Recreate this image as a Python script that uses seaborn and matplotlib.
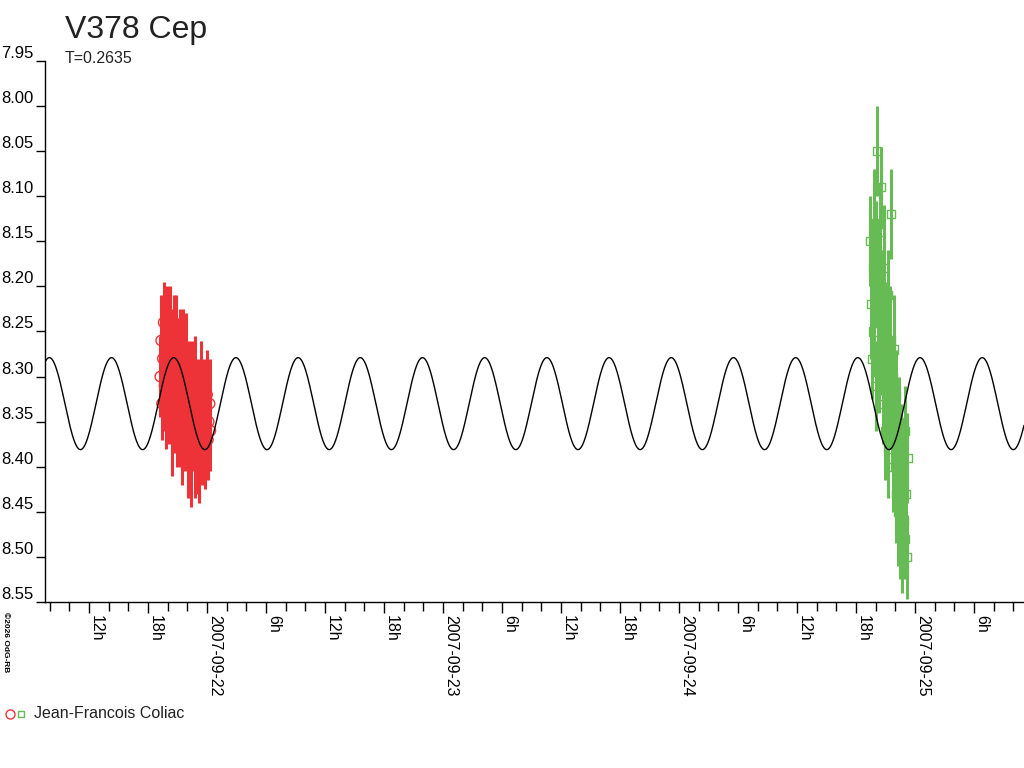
import numpy as np
import pandas as pd
import matplotlib
matplotlib.use('Agg')
import matplotlib.pyplot as plt
import seaborn as sns
from matplotlib.lines import Line2D
from matplotlib.ticker import FixedLocator, FuncFormatter

# Données : temps en heures depuis 2007-09-22 00:00, magnitudes et erreurs
red_hours = [-4.75, -4.66, -4.58, -4.49, -4.41, -4.32, -4.24, -4.15, -4.07, -3.98,
             -3.90, -3.81, -3.73, -3.64, -3.56, -3.47, -3.39, -3.30, -3.22, -3.13,
             -3.05, -2.96, -2.88, -2.79, -2.71, -2.62, -2.54, -2.45, -2.37, -2.28,
             -2.20, -2.11, -2.03, -1.94, -1.86, -1.77, -1.69, -1.60, -1.52, -1.43,
             -1.35, -1.26, -1.18, -1.09, -1.01, -0.92, -0.84, -0.75, -0.67, -0.58,
             -0.50, -0.41, -0.33, -0.24, -0.16, -0.07, 0.01, 0.10, 0.18, 0.27,
             0.35]
red_mag = [8.30, 8.26, 8.33, 8.28, 8.24, 8.31, 8.27, 8.34, 8.25, 8.29,
           8.32, 8.24, 8.30, 8.27, 8.35, 8.28, 8.25, 8.33, 8.30, 8.26,
           8.36, 8.29, 8.32, 8.27, 8.34, 8.30, 8.37, 8.28, 8.33, 8.31,
           8.36, 8.29, 8.34, 8.38, 8.30, 8.35, 8.32, 8.39, 8.31, 8.36,
           8.33, 8.38, 8.30, 8.35, 8.37, 8.32, 8.39, 8.34, 8.36, 8.31,
           8.38, 8.35, 8.33, 8.37, 8.34, 8.36, 8.32, 8.37, 8.35, 8.33,
           8.36]
red_err = [0.045, 0.050, 0.040, 0.055, 0.045, 0.050, 0.060, 0.040, 0.050, 0.045,
           0.055, 0.040, 0.050, 0.045, 0.060, 0.050, 0.040, 0.055, 0.045, 0.050,
           0.040, 0.055, 0.050, 0.045, 0.060, 0.040, 0.050, 0.055, 0.045, 0.050,
           0.045, 0.060, 0.050, 0.055, 0.040, 0.050, 0.045, 0.055, 0.050, 0.045,
           0.050, 0.055, 0.045, 0.050, 0.060, 0.040, 0.050, 0.045, 0.055, 0.050,
           0.040, 0.045, 0.050, 0.055, 0.045, 0.040, 0.050, 0.045, 0.040, 0.050,
           0.045]

green_hours = [67.45, 67.55, 67.62, 67.70, 67.78, 67.85, 67.93, 68.00, 68.08, 68.15,
               68.23, 68.30, 68.38, 68.45, 68.53, 68.60, 68.68, 68.75, 68.83, 68.90,
               68.98, 69.05, 69.13, 69.20, 69.28, 69.35, 69.43, 69.50, 69.58, 69.65,
               69.73, 69.80, 69.88, 69.95, 70.03, 70.10, 70.18, 70.25, 70.33, 70.40,
               70.48, 70.55, 70.63, 70.70, 70.78, 70.85, 70.93, 71.00, 71.08, 71.15,
               71.23]
green_mag = [8.15, 8.22, 8.28, 8.18, 8.25, 8.13, 8.20, 8.31, 8.16, 8.05,
             8.24, 8.19, 8.29, 8.14, 8.09, 8.27, 8.22, 8.33, 8.18, 8.26,
             8.36, 8.24, 8.30, 8.21, 8.38, 8.28, 8.33, 8.26, 8.12, 8.35,
             8.30, 8.40, 8.27, 8.37, 8.43, 8.32, 8.39, 8.45, 8.35, 8.42,
             8.47, 8.38, 8.44, 8.49, 8.41, 8.46, 8.36, 8.48, 8.43, 8.50,
             8.39]
green_err = [0.050, 0.060, 0.045, 0.055, 0.050, 0.060, 0.045, 0.050, 0.055, 0.050,
             0.045, 0.060, 0.050, 0.055, 0.045, 0.050, 0.060, 0.045, 0.070, 0.050,
             0.055, 0.045, 0.060, 0.050, 0.055, 0.045, 0.050, 0.060, 0.050, 0.055,
             0.045, 0.050, 0.060, 0.045, 0.055, 0.050, 0.045, 0.060, 0.050, 0.045,
             0.055, 0.050, 0.045, 0.050, 0.055, 0.045, 0.050, 0.045, 0.050, 0.047,
             0.050]

# Modèle sinusoïdal
PERIOD_DAYS = 0.2635
MEAN_MAG = 8.33
AMPLITUDE = 0.051
EPOCH_HOURS = 34.565  # maximum d'éclat

y_ticks = [7.95, 8.00, 8.05, 8.10, 8.15, 8.20, 8.25, 8.30, 8.35, 8.40, 8.45, 8.50, 8.55]
date_labels = {0: '2007-09-22', 24: '2007-09-23', 48: '2007-09-24', 72: '2007-09-25'}
x_min, x_max = -16.47, 83.08

RED = '#EE3338'
GREEN = '#66BB55'

df_red = pd.DataFrame({'t': red_hours, 'mag': red_mag, 'err': red_err})
df_green = pd.DataFrame({'t': green_hours, 'mag': green_mag, 'err': green_err})

t_curve = np.linspace(x_min, x_max, 3000)
mag_curve = MEAN_MAG - AMPLITUDE * np.cos(2 * np.pi * (t_curve - EPOCH_HOURS) / (PERIOD_DAYS * 24))

sns.set_style('white')
plt.rcParams['font.family'] = ['Liberation Sans', 'DejaVu Sans']

fig = plt.figure(figsize=(10.24, 7.68), dpi=100)
ax = fig.add_axes([45 / 1024, 1 - 602 / 768, 1 - 45 / 1024, (602 - 61) / 768])

sns.scatterplot(data=df_red, x='t', y='mag', marker='o', s=55, linewidth=1, ax=ax, zorder=2)
ax.collections[-1].set_facecolor('none')
ax.collections[-1].set_edgecolor(RED)
ax.vlines(df_red['t'], df_red['mag'] - df_red['err'], df_red['mag'] + df_red['err'],
          color=RED, linewidth=2.2, zorder=3)

sns.scatterplot(data=df_green, x='t', y='mag', marker='s', s=34, linewidth=1, ax=ax, zorder=2)
ax.collections[-1].set_facecolor('none')
ax.collections[-1].set_edgecolor(GREEN)
ax.vlines(df_green['t'], df_green['mag'] - df_green['err'], df_green['mag'] + df_green['err'],
          color=GREEN, linewidth=2.2, zorder=3)

sns.lineplot(x=t_curve, y=mag_curve, color='black', linewidth=1, estimator=None, ax=ax, zorder=5)

ax.set_xlim(x_min, x_max)
ax.set_ylim(8.55, 7.95)
ax.set_xlabel('')
ax.set_ylabel('')

for s in ['top', 'right']:
    ax.spines[s].set_visible(False)
for s in ['left', 'bottom']:
    ax.spines[s].set_color('black')
    ax.spines[s].set_linewidth(1)

ax.set_yticks(y_ticks)
ax.set_yticklabels(['%.2f' % v for v in y_ticks])
ax.tick_params(axis='y', left=True, direction='out', length=6.5, width=1, pad=2,
               labelsize=12, colors='black')
for lab in ax.get_yticklabels():
    lab.set_va('bottom')

major = list(range(-12, 83, 6))
minor = list(range(-16, 84, 2))

def fmt(h, pos):
    h = int(round(h))
    if h in date_labels:
        return date_labels[h]
    return '%dh' % (h % 24)

ax.xaxis.set_major_locator(FixedLocator(major))
ax.xaxis.set_minor_locator(FixedLocator(minor))
ax.xaxis.set_major_formatter(FuncFormatter(fmt))
ax.tick_params(axis='x', which='major', bottom=True, direction='out', length=8, width=1, pad=1.5,
               labelsize=11.5, colors='black')
ax.tick_params(axis='x', which='minor', bottom=True, direction='out', length=6.5, width=1,
               colors='black')
for lab in ax.get_xticklabels():
    lab.set_rotation(-90)
    lab.set_ha('left')
    lab.set_va('top')

# Titre
fig.text(65 / 1024, 1 - 38 / 768, 'V378 Cep', fontsize=23, color='#222222', va='baseline')
fig.text(65 / 1024, 1 - 63 / 768, 'T=0.2635', fontsize=11.5, color='#222222', va='baseline')

# Légende
fig.add_artist(Line2D([9.5 / 1024], [1 - 713.5 / 768], transform=fig.transFigure, marker='o',
                      markersize=6.5, mfc='none', mec=RED, mew=1, linestyle='none'))
fig.add_artist(Line2D([21 / 1024], [1 - 713.5 / 768], transform=fig.transFigure, marker='s',
                      markersize=4.5, mfc='none', mec=GREEN, mew=1, linestyle='none'))
fig.text(34 / 1024, 1 - 713.5 / 768, 'Jean-Francois Coliac', fontsize=11.5, color='#222222',
         va='center')

fig.text(2 / 1024, 1 - 612 / 768, '©2026 OdG-RB', fontsize=6, fontweight='bold',
         rotation=-90, va='top', ha='left', color='black')

fig.savefig('out.png', dpi=100)
